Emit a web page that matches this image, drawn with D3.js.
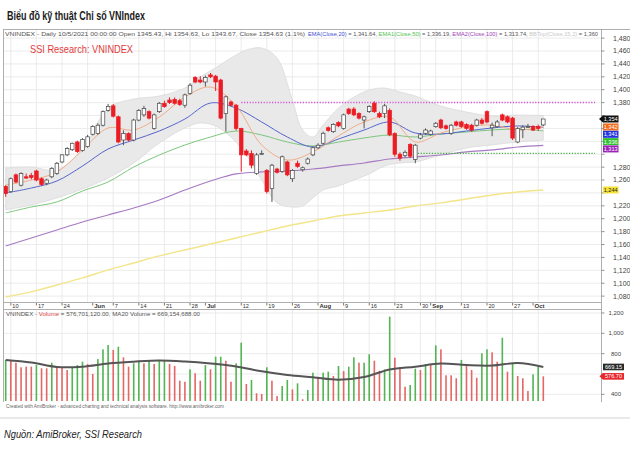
<!DOCTYPE html>
<html>
<head>
<meta charset="utf-8">
<script src="https://cdn.jsdelivr.net/npm/d3@7"></script>
<style>
body { margin: 0; background: #fff; }
svg { display: block; }
</style>
</head>
<body>
<div id="chart"></div>
<script>
// ---- data ----
// daily candles, 7 May .. 5 Oct 2021 (index 0..105)
var open = [1250,1242,1268,1252,1265,1267,1274,1262,1255,1265, 1270,1288,1299,1307,1319,1306,1312,1331,1332,1345,
  1368,1375,1358,1322,1332,1322,1353,1361,1366,1340, 1366,1379,1384,1385,1383,1376,1394,1419,1415,1412,
  1423,1421,1415,1363,1381,1376,1340,1305,1301,1270, 1300,1275,1247,1277,1273,1288,1262,1286,1276,1286,
  1299,1310,1317,1341,1335,1349,1340,1370,1370,1363, 1353,1366,1379,1363,1363,1368,1332,1300,1298,1315,
  1292,1325,1332.5,1331,1342.7,1353,1344,1332.5,1350,1350, 1346,1345,1345,1353,1366,1341,1342.7,1361,1358,1356,
  1319,1338,1342,1343,1343,1345.43];
var high = [1252,1264,1270,1272,1270,1271,1276,1264,1262,1280, 1288,1300,1311,1318,1321,1325,1330,1345,1348,1368,
  1378,1378,1360,1337,1334,1355,1370,1375,1368,1363, 1381,1383,1388,1388,1386,1394,1410,1421,1421,1422,
  1426,1423,1417,1391,1383,1378,1341,1308,1306,1302, 1306,1277,1285,1279,1298,1290,1277,1290,1281,1295,
  1312,1317,1335,1343,1348,1351,1363,1372,1373,1365, 1360,1376,1382,1366,1378,1371,1334,1303,1306,1317,
  1316,1333,1340,1338,1350,1355,1346,1347,1352,1352, 1348,1347,1355,1356,1368,1349,1353,1363,1360,1358,
  1342,1345,1347,1345,1346,1354.63];
var low = [1234,1240,1255,1250,1262,1261,1258,1251,1252,1263, 1268,1286,1297,1305,1302,1304,1310,1329,1330,1343,
  1366,1357,1317,1314,1320,1320,1351,1358,1354,1338, 1364,1372,1378,1377,1375,1372,1392,1410,1410,1405,
  1418,1398,1354,1335,1374,1337,1273,1297,1278,1268, 1299,1239,1226,1270,1271,1266,1257,1279,1273,1284,
  1297,1308,1315,1335,1333,1342,1338,1361,1359,1354, 1340,1364,1364,1356,1356,1328,1296,1290,1295,1294,
  1286,1323,1330,1329,1341,1339,1338,1330,1343,1341, 1338,1335,1343,1346,1348,1328,1341,1351,1348,1322,
  1317,1325,1341,1336,1336,1343.67];
var close = [1239,1262,1257,1270,1263,1264,1260,1253,1260,1278, 1286,1299,1309,1317,1304,1323,1327,1343,1345,1366,
  1374,1359,1319,1332,1322,1353,1368,1371,1356,1361, 1379,1374,1380,1379,1377,1392,1407,1412,1412,1419,
  1420,1412,1356,1389,1376,1340,1299,1299,1283,1299, 1301,1242,1283,1272,1296,1268,1275,1281,1279,1292.5,
  1310,1314,1332.5,1337,1346,1344,1361,1363,1361,1356, 1358,1374,1366,1358,1375,1330,1300,1294,1303,1297,
  1314,1330,1337.5,1336,1348,1341,1340,1345,1345,1343, 1340,1337.5,1353,1348,1350,1345,1350,1353,1350,1325,
  1340,1342,1343,1337.5,1340,1354.63];

// volume (million shares) and bar colour as drawn (g / r)
var volume = [738,731,711,666,672,672,688,656,656,711, 666,666,639,666,688,721,698,600,747,843,
  885,836,868,764,672,705,731,705,731,698, 738,731,698,679,534,524,646,607,534,688,
  646,770,770,731,524,705,908,502,541,410, 403,666,534,383,482,541,449,508,351,442,
  613,573,613,623,580,679,629,672,764,711, 711,794,731,632,646,1164,760,666,475,492,
  652,639,698,688,882,843,587,587,558,738, 698,639,563,804,843,813,721,957,623,698,
  580,558,433,597,672,576.7];
var volColor = "grrrrrgrrg" + "rrrgggrrgg" + "grgrrggrgr" + "ggrrrrgrrg" + "rggrrggrgr" +
  "rgrrggrgrg" + "grggrgrggr" + "ggrrggrrrg" + "grgrgrrrrg" + "rrrggrrgrg" + "rrrggr";

// indicator lines sampled every 5 bars
var lineIdx = [0,5,10,15,20,25,30,35,40,45,50,55,60,65,70,75,80,85,90,95,100,105];
var ema10 = [1252.3,1260,1272.5,1306.6,1340.7,1337.6,1357.7,1388.7,1404.2,1375,1314.3,1291,1303.5,1328.3,1350,1357.7,1319,1332.9,1342.2,1345.3,1337.6,1342.2];
var ema20 = [1239.9,1247.6,1258.5,1281.7,1308.1,1322,1336,1354.6,1379.4,1371.6,1350,1326.7,1311.2,1323.6,1337.5,1350,1332.9,1331.4,1336,1340.7,1343.8,1341.64];
var ema50 = [1208.9,1218.2,1226,1243,1257,1280.2,1298.8,1314.3,1326.7,1336,1329.8,1318.9,1312.7,1318.9,1325.2,1329.8,1326.7,1331.4,1334.5,1337.6,1339.1,1336.19];
var ema100 = [1157.8,1170.2,1182.6,1195,1205.8,1216.6,1229,1244.5,1258.5,1269.4,1272.5,1274,1277.1,1281.8,1286.4,1292.6,1295.7,1298.8,1303.5,1306.6,1311.2,1313.74];
var ema200 = [1078.7,1086.5,1097.3,1108.2,1120.6,1131.4,1142.3,1151.6,1160.9,1170.2,1179.5,1188.8,1196.5,1204.3,1208.9,1213.6,1219.8,1224.5,1230.6,1236.8,1241.5,1244.6];
var volMa20 = [738,713,669,672,703,721,733,723,703,674,626,590,567,543,570,644,672,703,688,683,708,669.15];

// bollinger band edges
var bbIdx = [0,5,10,15,20,25,30,35,38,41,44,47,50,53,56,58,60,62,65,68,71,74,77,80,85,90,95,100,105];
var bbTop = [1278.7,1280.2,1275.6,1306.6,1371.6,1385.6,1390.3,1402.7,1420,1434,1449.2,1461.6,1464.7,1449.2,1384,1337.6,1326.7,1345.3,1371.6,1388.7,1399.5,1402.7,1396.5,1390.3,1374.8,1365.5,1359.3,1360.8,1360];
var bbBot = [1213.6,1221.3,1232.2,1246.1,1263.2,1286.4,1317.4,1340.7,1348.4,1343.8,1326.7,1298.8,1260,1224.4,1218.2,1219.8,1232.2,1244.6,1250.8,1260,1269.4,1281.8,1286.4,1288,1298.8,1309.7,1314.3,1319,1322];

// horizontal levels
var resistLevel = 1380.3, resistFrom = 46;
var supportLevel = 1301.4, supportFrom = 80.5;

// axis
var priceTicks = d3.range(1080, 1481, 20);
var volTicks = [400, 600, 800, 1000, 1200];
var gridIdx = [1,6,11,16,21,26,31,36,41,46,51,56,61,66,71,76,81,84,89,94,99,104];
var dateIdx = [1,6,11,17,21,26,31,36,39,46,51,56,61,66,71,76,81,83,89,94,99,103];
var dateLabels = ["10","17","24","Jun","7","14","21","28","Jul","12","19","26","Aug","9","16","23","30","Sep","13","20","27","Oct"];

// last-value boxes
var lastLabels = ["1,354", "1,342", "1,341", "1,336", "1,313"];
var lastValues = [1354.63, 1342.2, 1341.64, 1336.19, 1313.74];

// ---- drawing ----
var W = 630, H = 465;
var svg = d3.select("#chart").append("svg")
    .attr("width", W).attr("height", H)
    .style("font-family", "'Liberation Sans', Arial, sans-serif");

var x = d3.scaleLinear().domain([0, 105]).range([5.7, 543.3]);
var y = d3.scaleLinear().domain([1070.9, 1492.6]).range([302, 30]);
var yv = d3.scaleLinear().domain([334.3, 1229.5]).range([401, 310]);
var axisX = 601.5;

svg.append("text")
    .attr("x", 7).attr("y", 20)
    .attr("font-family", "'Liberation Sans Narrow', 'Liberation Sans', Arial")
    .attr("font-weight", "bold").attr("font-size", 12.5)
    .attr("fill", "#1a1a1a")
    .attr("textLength", 138).attr("lengthAdjust", "spacingAndGlyphs")
    .text("Biểu đồ kỹ thuật Chỉ số VNIndex");

svg.append("defs").append("clipPath").attr("id", "pp")
    .append("rect").attr("x", 4).attr("y", 30).attr("width", axisX - 4).attr("height", 272);

// grid
var grid = svg.append("g").attr("stroke", "#e6e6e6").attr("stroke-width", 0.8);
priceTicks.forEach(function(t) {
    grid.append("line").attr("x1", 4).attr("x2", axisX).attr("y1", y(t)).attr("y2", y(t));
});
volTicks.forEach(function(t) {
    grid.append("line").attr("x1", 4).attr("x2", axisX).attr("y1", yv(t)).attr("y2", yv(t));
});
gridIdx.forEach(function(i) {
    grid.append("line").attr("x1", x(i)).attr("x2", x(i)).attr("y1", 30).attr("y2", 302);
    grid.append("line").attr("x1", x(i)).attr("x2", x(i)).attr("y1", 310).attr("y2", 401);
});

var pane = svg.append("g").attr("clip-path", "url(#pp)");

// bollinger band
var bbData = bbIdx.map(function(i, k) { return [i, bbTop[k], bbBot[k]]; });
pane.append("path")
    .datum(bbData)
    .attr("fill", "#e9e9e9")
    .attr("stroke", "#d4d4d4").attr("stroke-width", 0.6)
    .attr("d", d3.area()
        .x(function(d) { return x(d[0]); })
        .y0(function(d) { return y(d[2]); })
        .y1(function(d) { return y(d[1]); })
        .curve(d3.curveCatmullRom));

function drawLine(vals, color, w) {
    var pts = lineIdx.map(function(i, k) { return [i, vals[k]]; });
    pane.append("path")
        .datum(pts)
        .attr("fill", "none")
        .attr("stroke", color)
        .attr("stroke-width", w)
        .attr("d", d3.line()
            .x(function(d) { return x(d[0]); })
            .y(function(d) { return y(d[1]); })
            .curve(d3.curveCatmullRom));
}
drawLine(ema200, "#f3e58a", 1.4);
drawLine(ema100, "#a77ac4", 1.2);
drawLine(ema50, "#7cc67c", 1);
drawLine(ema20, "#5565cc", 1);
drawLine(ema10, "#f0a67c", 0.9);

// dotted levels
pane.append("line")
    .attr("x1", x(resistFrom)).attr("x2", 595)
    .attr("y1", y(resistLevel)).attr("y2", y(resistLevel))
    .attr("stroke", "#d455d4").attr("stroke-width", 1.4).attr("stroke-dasharray", "1.2,1.6");
pane.append("line")
    .attr("x1", x(supportFrom)).attr("x2", 595)
    .attr("y1", y(supportLevel)).attr("y2", y(supportLevel))
    .attr("stroke", "#3fb23f").attr("stroke-width", 1.4).attr("stroke-dasharray", "1.2,1.6");

// candles
var candles = pane.append("g");
var bw = 3.6;
open.forEach(function(o, i) {
    var c = close[i];
    var up = c >= o;
    var col = up ? "#444" : "#ec1c24";
    candles.append("line")
        .attr("x1", x(i)).attr("x2", x(i))
        .attr("y1", y(high[i])).attr("y2", y(low[i]))
        .attr("stroke", up ? "#555" : "#ec1c24").attr("stroke-width", 1);
    var top = y(Math.max(o, c)), bot = y(Math.min(o, c));
    candles.append("rect")
        .attr("x", x(i) - bw / 2).attr("y", top)
        .attr("width", bw).attr("height", Math.max(1, bot - top))
        .attr("fill", up ? "#fff" : "#ec1c24")
        .attr("stroke", col).attr("stroke-width", 0.7);
});

// header texts
svg.append("text")
    .attr("x", 5).attr("y", 36).attr("font-size", 5.6).attr("fill", "#555")
    .attr("textLength", 300).attr("lengthAdjust", "spacingAndGlyphs")
    .text("VNINDEX - Daily 10/5/2021 00:00:00 Open 1345.43, Hi 1354.63, Lo 1343.67, Close 1354.63 (1.1%)");
var hdr = svg.append("text")
    .attr("x", 308).attr("y", 36).attr("font-size", 5.6).attr("fill", "#555")
    .attr("textLength", 290).attr("lengthAdjust", "spacingAndGlyphs");
hdr.append("tspan").attr("fill", "#3f51d0").text("EMA(Close,20)");
hdr.append("tspan").text(" = 1,341.64, ");
hdr.append("tspan").attr("fill", "#4fbf4f").text("EMA1(Close,50)");
hdr.append("tspan").text(" = 1,336.19, ");
hdr.append("tspan").attr("fill", "#a040b8").text("EMA2(Close,100)");
hdr.append("tspan").text(" = 1,313.74, ");
hdr.append("tspan").attr("fill", "#c8c8c8").text("BBTop(Close,15,2)");
hdr.append("tspan").text(" = 1,360");

svg.append("text")
    .attr("x", 30).attr("y", 53).attr("font-size", 11).attr("fill", "#e23b3b")
    .attr("textLength", 103).attr("lengthAdjust", "spacingAndGlyphs")
    .text("SSI Research: VNINDEX");

// frame lines
var frame = svg.append("g").attr("stroke", "#9a9a9a").attr("stroke-width", 0.8);
frame.append("line").attr("x1", 3).attr("x2", W).attr("y1", 29.5).attr("y2", 29.5);
frame.append("line").attr("x1", 3.5).attr("x2", 3.5).attr("y1", 29.5).attr("y2", 402);
frame.append("line").attr("x1", 3.5).attr("x2", axisX).attr("y1", 302.5).attr("y2", 302.5);
frame.append("line").attr("x1", 3.5).attr("x2", axisX).attr("y1", 309.5).attr("y2", 309.5);
frame.append("line").attr("x1", axisX).attr("x2", axisX).attr("y1", 29.5).attr("y2", 402);

// last value boxes on the price axis (positions first, so covered tick labels can be skipped)
var boxFill = ["#111", "#f26a1b", "#2333e0", "#2fbf2f", "#9a22b8"];
var boxY = [];
var prevY = -100;
lastValues.forEach(function(v) {
    var yc = Math.max(y(v), prevY + 7.3);
    boxY.push(yc);
    prevY = yc;
});
var y200 = y(ema200[ema200.length - 1]);
boxY.push(y200);
function covered(yy) {
    return boxY.some(function(b) { return Math.abs(b - yy) < 6.5; });
}

// price axis
var pax = svg.append("g");
priceTicks.forEach(function(t) {
    pax.append("line").attr("x1", axisX).attr("x2", axisX + 3)
        .attr("y1", y(t)).attr("y2", y(t)).attr("stroke", "#777").attr("stroke-width", 0.8);
    if (covered(y(t))) return;
    pax.append("text").attr("x", 613).attr("y", y(t)).attr("dy", "0.35em")
        .attr("font-size", 7).attr("fill", "#444").text(d3.format(",")(t));
});

// date axis
var dax = svg.append("g");
dateIdx.forEach(function(i, k) {
    var month = isNaN(+dateLabels[k]);
    dax.append("line").attr("x1", x(i)).attr("x2", x(i)).attr("y1", 303).attr("y2", 305.5)
        .attr("stroke", "#555").attr("stroke-width", 0.8);
    dax.append("text").attr("x", x(i) + 1.5).attr("y", 308)
        .attr("font-size", month ? 6 : 5.6).attr("font-weight", month ? "bold" : "normal")
        .attr("fill", "#333").text(dateLabels[k]);
});

lastValues.forEach(function(v, k) {
    var yc = boxY[k];
    if (k === 0) {
        svg.append("path").attr("d", "M603," + (yc - 3.5) + " L599," + yc + " L603," + (yc + 3.5) + "Z")
            .attr("fill", boxFill[k]);
    }
    svg.append("rect").attr("x", 603).attr("y", yc - 3.5).attr("width", 15.5).attr("height", 7)
        .attr("fill", boxFill[k]);
    svg.append("text").attr("x", 610.7).attr("y", yc).attr("dy", "0.36em").attr("text-anchor", "middle")
        .attr("font-size", 5.6).attr("fill", "#fff").text(lastLabels[k]);
});
svg.append("rect").attr("x", 603).attr("y", y200 - 3.5).attr("width", 15.5).attr("height", 7)
    .attr("fill", "#f7e23a");
svg.append("text").attr("x", 610.7).attr("y", y200).attr("dy", "0.36em").attr("text-anchor", "middle")
    .attr("font-size", 5.6).attr("fill", "#222").text("1,244");

// volume pane
svg.append("text")
    .attr("x", 6).attr("y", 316).attr("font-size", 5.6).attr("fill", "#555")
    .attr("textLength", 194).attr("lengthAdjust", "spacingAndGlyphs")
    .call(function(t) {
        t.append("tspan").text("VNINDEX - ");
        t.append("tspan").attr("fill", "#e04545").text("Volume");
        t.append("tspan").text(" = 576,701,120.00, MA20 Volume = 669,154,688.00");
    });

var vbars = svg.append("g");
volume.forEach(function(v, i) {
    vbars.append("rect")
        .attr("x", x(i) - 0.8).attr("y", yv(v))
        .attr("width", 1.6).attr("height", 401 - yv(v))
        .attr("fill", volColor[i] === "g" ? "#52b452" : "#e46666");
});
svg.append("path")
    .datum(lineIdx.map(function(i, k) { return [i, volMa20[k]]; }))
    .attr("fill", "none").attr("stroke", "#555").attr("stroke-width", 2)
    .attr("d", d3.line()
        .x(function(d) { return x(d[0]); })
        .y(function(d) { return yv(d[1]); })
        .curve(d3.curveCatmullRom));

var yMa = yv(volMa20[volMa20.length - 1]);
var yVol = yv(volume[volume.length - 1]);
volTicks.forEach(function(t) {
    svg.append("line").attr("x1", axisX).attr("x2", axisX + 3)
        .attr("y1", yv(t)).attr("y2", yv(t)).attr("stroke", "#777").attr("stroke-width", 0.8);
    if (Math.abs(yv(t) - yVol) < 6.5 || Math.abs(yv(t) - yMa) < 6.5) return;
    svg.append("text").attr("x", 616).attr("y", yv(t)).attr("dy", "0.35em").attr("text-anchor", "middle")
        .attr("font-size", 6).attr("fill", "#444").text(d3.format(",")(t));
});

svg.append("rect").attr("x", 603).attr("y", yMa - 3.3).attr("width", 21).attr("height", 6.6).attr("fill", "#2a2a2a");
svg.append("text").attr("x", 613.5).attr("y", yMa).attr("dy", "0.36em").attr("text-anchor", "middle")
    .attr("font-size", 5.6).attr("fill", "#fff").text("669.15");
svg.append("path").attr("d", "M603," + (yVol - 3.3) + " L599.5," + yVol + " L603," + (yVol + 3.3) + "Z").attr("fill", "#e8262c");
svg.append("rect").attr("x", 603).attr("y", yVol - 3.3).attr("width", 21).attr("height", 6.6).attr("fill", "#e8262c");
svg.append("text").attr("x", 613.5).attr("y", yVol).attr("dy", "0.36em").attr("text-anchor", "middle")
    .attr("font-size", 5.6).attr("fill", "#fff").text("576.70");

svg.append("text")
    .attr("x", 6).attr("y", 408).attr("font-size", 4.8).attr("fill", "#666")
    .attr("textLength", 218).attr("lengthAdjust", "spacingAndGlyphs")
    .text("Created with AmiBroker - advanced charting and technical analysis software. http://www.amibroker.com");

svg.append("line").attr("x1", 0).attr("x2", W).attr("y1", 418).attr("y2", 418)
    .attr("stroke", "#e2e2e2").attr("stroke-width", 1.5);

svg.append("text")
    .attr("x", 4).attr("y", 438)
    .attr("font-family", "'Liberation Sans Narrow', 'Liberation Sans', Arial")
    .attr("font-style", "italic").attr("font-size", 11.5).attr("fill", "#222")
    .attr("textLength", 138).attr("lengthAdjust", "spacingAndGlyphs")
    .text("Nguồn: AmiBroker, SSI Research");
</script>
</body>
</html>
